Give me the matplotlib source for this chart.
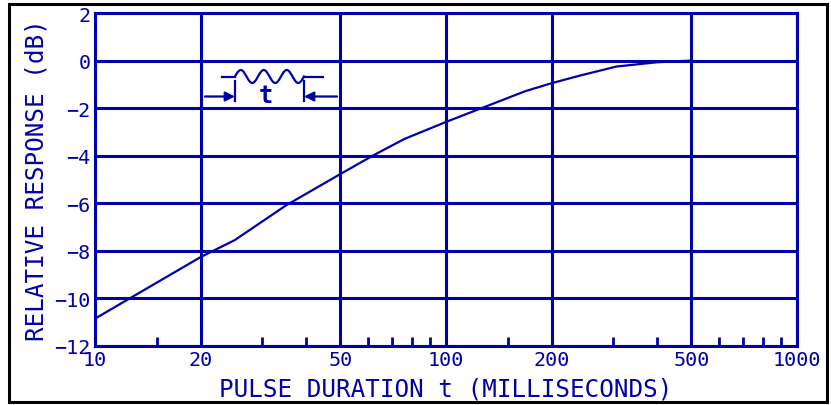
import numpy as np
import matplotlib
matplotlib.use("Agg")
from matplotlib import pyplot as plt
from matplotlib.patches import Rectangle
from matplotlib.ticker import FixedLocator, NullFormatter

# curve (pulse duration in ms, relative response in dB)
duration_ms = [10, 20, 25, 35, 50, 62, 76, 100, 168, 200, 241, 306, 400, 500]
response_db = [-10.85, -8.26, -7.55, -6.09, -4.77, -3.99, -3.30, -2.58,
               -1.29, -0.95, -0.63, -0.25, -0.07, 0.0]

x_major = [10, 20, 50, 100, 200, 500, 1000]
x_minor = [15, 30, 40, 60, 70, 80, 90, 150, 300, 400, 600, 700, 800, 900]
y_ticks = [-12, -10, -8, -6, -4, -2, 0, 2]

BLUE = "#0000aa"
FONT = "DejaVu Sans Mono"

fig = plt.figure(figsize=(8.31, 4.06), dpi=100)
ax = fig.add_axes([95 / 831, 1 - 347 / 406, 702 / 831, 333 / 406])

ax.set_xscale("log")
ax.set_xlim(10, 1000)
ax.set_ylim(-12, 2)

ax.plot(duration_ms, response_db, color=BLUE, lw=1.6, zorder=3)

# grid lines
for x in x_major:
    ax.axvline(x, color=BLUE, lw=2.2, zorder=2)
for y in y_ticks:
    ax.axhline(y, color=BLUE, lw=2.2, zorder=2)

ax.xaxis.set_major_locator(FixedLocator(x_major))
ax.xaxis.set_minor_locator(FixedLocator(x_minor))
ax.xaxis.set_minor_formatter(NullFormatter())
ax.set_xticklabels([str(v) for v in x_major])
ax.set_yticks(y_ticks)
ax.set_yticklabels([("\u2212" + str(-v)) if v < 0 else str(v) for v in y_ticks])

ax.tick_params(axis="both", which="major", length=0, colors=BLUE, labelsize=14.5)
ax.tick_params(axis="x", which="major", pad=3)
ax.tick_params(axis="y", which="major", pad=3)
ax.tick_params(axis="x", which="minor", direction="in", length=6.5, width=2,
               color=BLUE, top=False)
for lab in ax.get_xticklabels() + ax.get_yticklabels():
    lab.set_family(FONT)

for sp in ax.spines.values():
    sp.set_color(BLUE)
    sp.set_linewidth(2.2)

ax.set_xlabel("PULSE DURATION t (MILLISECONDS)", color=BLUE, fontsize=17.5,
              family=FONT, labelpad=5)
ax.set_ylabel("RELATIVE RESPONSE (dB)", color=BLUE, fontsize=17.5,
              family=FONT, labelpad=4)

# little pulse sketch, drawn in pixel units of its own axes
ins = fig.add_axes([205 / 831, 1 - 104 / 406, 132 / 831, 38 / 406])
ins.set_xlim(205, 337)
ins.set_ylim(104, 66)
ins.axis("off")
wx = np.linspace(235, 304, 200)
wy = 77.5 - 6.5 * np.sin(2 * np.pi * 3 * (wx - 235) / (304 - 235))
ins.plot([222, 235], [77.5, 77.5], color=BLUE, lw=1.6)
ins.plot(wx, wy, color=BLUE, lw=1.6)
ins.plot([304, 323], [77.5, 77.5], color=BLUE, lw=1.6)
ins.plot([235, 235], [82, 102], color=BLUE, lw=1.6)
ins.plot([304, 304], [82, 102], color=BLUE, lw=1.6)
ins.annotate("", xy=(235, 97.5), xytext=(205, 97.5),
             arrowprops=dict(arrowstyle="-|>", color=BLUE, lw=1.6,
                             mutation_scale=14, shrinkA=0, shrinkB=0))
ins.annotate("", xy=(304, 97.5), xytext=(337, 97.5),
             arrowprops=dict(arrowstyle="-|>", color=BLUE, lw=1.6,
                             mutation_scale=14, shrinkA=0, shrinkB=0))
ins.text(266, 96, "t", color=BLUE, fontsize=17, family=FONT,
         ha="center", va="center", fontweight="bold")

# black frame around the whole picture
fig.patches.append(Rectangle((9 / 831, 1 - 403 / 406), 818 / 831, 398 / 406,
                             transform=fig.transFigure, fill=False,
                             edgecolor="black", lw=2.2))

fig.savefig("out.png", dpi=100)
